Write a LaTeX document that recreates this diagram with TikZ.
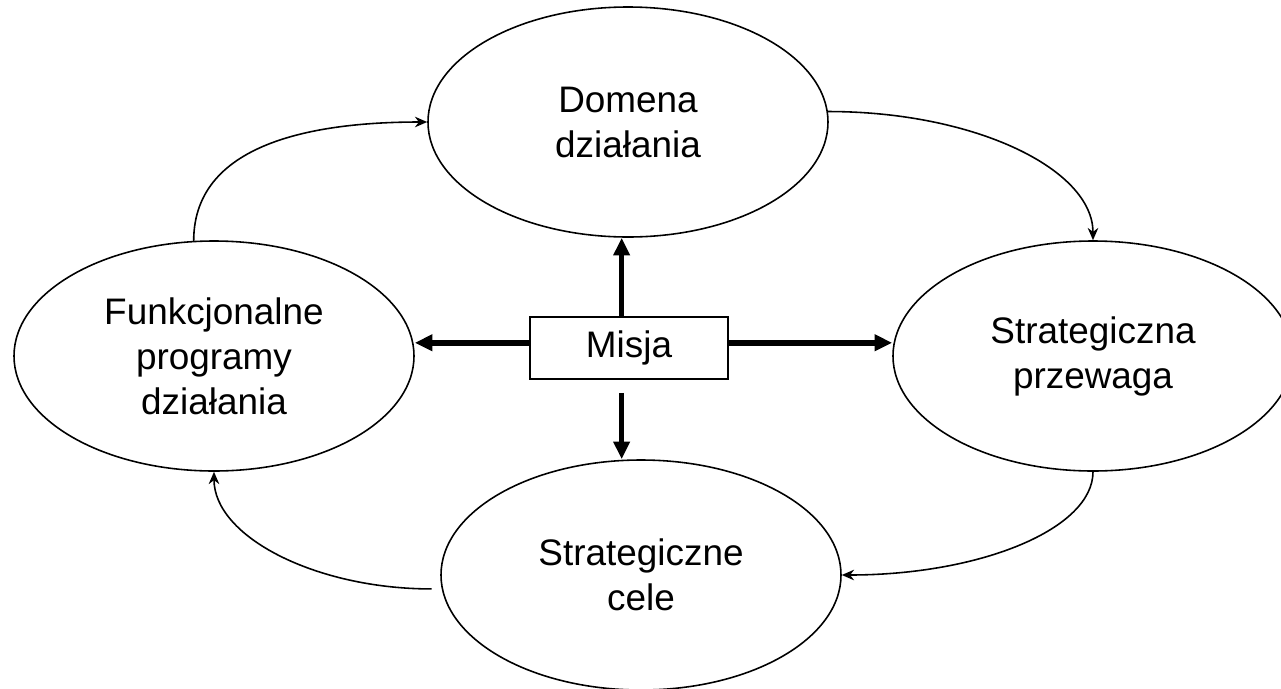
\documentclass[tikz,border=0pt]{standalone}
\usepackage{fontspec}
\setmainfont{Liberation Sans}
\usetikzlibrary{arrows.meta,shapes.geometric}

\begin{document}
\begin{tikzpicture}[
    area/.style={draw, ellipse, minimum width=8cm, minimum height=4.6cm, inner sep=0pt, align=center, font=\fontsize{21}{25.6}\selectfont, line width=0.9pt},
    core/.style={draw, minimum width=3.96cm, minimum height=1.24cm, inner sep=0pt, font=\fontsize{21}{25.6}\selectfont, line width=0.9pt},
    push/.style={-{Triangle[length=10pt, width=9pt]}, line width=3.2pt},
    flow/.style={-{Stealth[length=7pt, width=6pt]}, line width=0.9pt}
]
\useasboundingbox (0,0) rectangle (25.62,-13.76);

\node[area] (domena) at (12.56,-2.44) {Domena\\działania};
\node[area] (func) at (4.28,-7.12) {Funkcjonalne\\programy\\działania};
\node[area] (strat) at (21.86,-7.12) {Strategiczna\\przewaga};
\node[area] (cele) at (12.82,-11.5) {Strategiczne\\cele};
\node[core] (misja) at (12.58,-6.96) {Misja};

\draw[push] (misja.103) -- (misja.103 |- domena.south);
\draw[push] (misja.177) -- (misja.177 -| func.east);
\draw[push] (misja.3) -- (misja.3 -| strat.west);
\draw[push, shorten <=0.26cm] (misja.-103) -- (misja.-103 |- cele.north);

\draw[flow] (func.100) to[out=90, in=180] (domena.west);
\draw[flow] (domena.3) .. controls +(2.94,0) and +(0,1.42) .. (strat.north);
\draw[flow] (strat.south) .. controls +(0,-1.14) and +(2.78,0) .. (cele.east);
\draw[flow, shorten <=0.2cm] (cele.184) .. controls +(-2.52,0) and +(0,-1.3) .. (func.south);
\end{tikzpicture}
\end{document}
